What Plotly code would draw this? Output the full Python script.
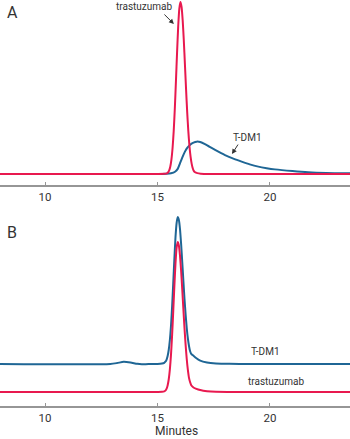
import plotly.graph_objects as go

# ---------------- data ----------------
# Panel A: overlay of the two chromatograms
a_tras_min = [8.0, 15.0, 15.3, 15.42, 15.47, 15.52, 15.57, 15.62, 15.67, 15.72, 15.77, 15.82, 15.87,
              15.92, 15.97, 16.02, 16.07, 16.12, 16.17, 16.22, 16.27, 16.32, 16.37, 16.42, 16.47,
              16.52, 16.57, 16.62, 16.67, 16.77, 16.92, 17.3, 23.56]
a_tras_val = [0.0, 0.0, 0.1, 0.4, 0.9, 2.1, 4.4, 8.5, 15.1, 24.9, 38.1, 54.0, 70.7,
              85.7, 96.2, 100.0, 97.2, 89.3, 77.5, 63.5, 49.2, 36.0, 24.9, 16.3, 10.1,
              5.9, 3.2, 1.7, 1.0, 0.5, 0.2, 0.0, 0.0]

a_tdm1_min = [8.0, 15.2, 15.4, 15.6, 15.78, 15.9, 16.0, 16.1, 16.22, 16.33, 16.44, 16.6, 16.74,
              16.9, 17.11, 17.3, 17.56, 18.0, 18.4, 18.74, 19.1, 19.48, 19.85, 20.22, 21.0,
              21.7, 22.5, 23.56]
a_tdm1_val = [0.0, 0.0, 0.1, 0.4, 1.3, 3.0, 6.2, 9.5, 13.0, 15.3, 16.9, 18.2, 18.8,
              18.6, 17.4, 15.9, 14.0, 11.0, 8.8, 7.2, 5.6, 4.3, 3.4, 2.7, 1.7,
              1.0, 0.6, 0.4]

# Panel B: stacked chromatograms
b_tras_min = [8.0, 15.0, 15.2, 15.3, 15.35, 15.4, 15.45, 15.5, 15.55, 15.6, 15.65, 15.7, 15.75,
              15.8, 15.85, 15.9, 15.95, 16.0, 16.05, 16.1, 16.15, 16.2, 16.25, 16.3, 16.35,
              16.4, 16.45, 16.5, 16.6, 16.7, 16.9, 17.2, 17.6, 23.56]
b_tras_val = [0.0, 0.0, 0.1, 0.4, 0.9, 2.1, 4.4, 8.5, 15.1, 24.9, 38.1, 54.0, 70.7,
              85.7, 96.2, 100.0, 97.7, 91.0, 80.8, 68.5, 55.4, 42.7, 31.4, 22.0, 14.7,
              9.4, 6.5, 4.5, 3.0, 2.3, 1.3, 0.5, 0.1, 0.0]

b_tdm1_min = [8.0, 12.9, 13.2, 13.5, 13.8, 14.1, 14.3, 14.6, 15.0, 15.2, 15.3, 15.35, 15.4,
              15.45, 15.5, 15.55, 15.6, 15.65, 15.7, 15.75, 15.8, 15.85, 15.9, 15.95, 16.0,
              16.05, 16.1, 16.15, 16.2, 16.25, 16.3, 16.35, 16.4, 16.45, 16.5, 16.6, 16.7,
              16.9, 17.2, 17.6, 18.2, 19.0, 23.56]
b_tdm1_val = [0.0, 0.0, 0.6, 1.5, 1.0, 0.1, -0.2, 0.0, 0.0, 0.3, 0.8, 1.5, 2.8,
              5.3, 9.5, 16.0, 25.5, 38.5, 54.0, 70.0, 84.5, 94.0, 98.0, 96.0, 90.0,
              80.0, 68.0, 55.5, 43.5, 33.0, 24.0, 17.0, 12.0, 8.5, 6.8, 5.5, 4.2,
              2.2, 1.0, 0.4, 0.1, 0.0, 0.0]
b_tdm1_offset = 18.67   # vertical stacking offset of the T-DM1 trace

tick_vals = [10, 15, 20]
tick_text = ["10", "15", "20"]
x_title = "Minutes"
series_names = ["trastuzumab", "T-DM1"]
panel_labels = ["A", "B"]

# ---------------- styling ----------------
RED = "#e8194f"
BLUE = "#1f6695"
AXIS = "#969696"
TXT = "#333333"
FONT = "Liberation Sans Narrow, Roboto, Arial, sans-serif"

fig = go.Figure()

# Panel A (blue under red)
fig.add_trace(go.Scatter(x=a_tdm1_min, y=a_tdm1_val, mode="lines", line=dict(color=BLUE, width=2, shape="spline", smoothing=0.6),
                         xaxis="x", yaxis="y", name=series_names[1], hoverinfo="skip"))
fig.add_trace(go.Scatter(x=a_tras_min, y=a_tras_val, mode="lines", line=dict(color=RED, width=2, shape="spline", smoothing=0.6),
                         xaxis="x", yaxis="y", name=series_names[0], hoverinfo="skip"))
# Panel B
fig.add_trace(go.Scatter(x=b_tdm1_min, y=[v + b_tdm1_offset for v in b_tdm1_val], mode="lines",
                         line=dict(color=BLUE, width=2, shape="spline", smoothing=0.6),
                         xaxis="x2", yaxis="y2", name=series_names[1], hoverinfo="skip"))
fig.add_trace(go.Scatter(x=b_tras_min, y=b_tras_val, mode="lines", line=dict(color=RED, width=2, shape="spline", smoothing=0.6),
                         xaxis="x2", yaxis="y2", name=series_names[0], hoverinfo="skip"))

xcommon = dict(range=[8, 23.556], tickvals=tick_vals, ticktext=tick_text, showgrid=False, zeroline=False,
               showline=True, linecolor=AXIS, linewidth=2, ticks="inside", ticklen=3, tickcolor=AXIS,
               tickwidth=1, tickfont=dict(family=FONT, size=11.5, color=TXT), fixedrange=True)

fig.update_layout(
    width=350, height=439,
    margin=dict(l=0, r=0, t=0, b=33),
    paper_bgcolor="white", plot_bgcolor="white",
    showlegend=False,
    xaxis=dict(**xcommon, anchor="y"),
    yaxis=dict(domain=[0.5443, 1.0], range=[-6.395, 101.16], visible=False, fixedrange=True),
    xaxis2=dict(**xcommon, anchor="y2"),
    yaxis2=dict(domain=[0.0, 0.5074], range=[-9.33, 128], visible=False, fixedrange=True),
)

ann = []
# panel letters
ann.append(dict(text=panel_labels[0], xref="paper", yref="paper", x=0.014, y=0.9704, xanchor="left", yanchor="middle",
                showarrow=False, font=dict(family="Roboto, Arial, sans-serif", size=16, color=TXT)))
ann.append(dict(text=panel_labels[1], xref="paper", yref="paper", x=0.014, y=0.4273, xanchor="left", yanchor="middle",
                showarrow=False, font=dict(family="Roboto, Arial, sans-serif", size=16, color=TXT)))
# Panel A labels
ann.append(dict(text=series_names[0], xref="x", yref="y", x=14.44, y=97.1, showarrow=False,
                font=dict(family=FONT, size=10, color=TXT)))
ann.append(dict(text="", xref="x", yref="y", x=15.73, y=87.2, ax=-11, ay=-11, showarrow=True,
                arrowhead=2, arrowsize=1, arrowwidth=1, arrowcolor=TXT))
ann.append(dict(text=series_names[1], xref="x", yref="y", x=18.98, y=21.5, showarrow=False,
                font=dict(family=FONT, size=10, color=TXT)))
ann.append(dict(text="", xref="x", yref="y", x=18.31, y=11.6, ax=7, ay=-11, showarrow=True,
                arrowhead=2, arrowsize=1, arrowwidth=1, arrowcolor=TXT))
# Panel B labels
ann.append(dict(text=series_names[1], xref="x2", yref="y2", x=19.82, y=26.7, showarrow=False,
                font=dict(family=FONT, size=10, color=TXT)))
ann.append(dict(text=series_names[0], xref="x2", yref="y2", x=20.27, y=6.7, showarrow=False,
                font=dict(family=FONT, size=10, color=TXT)))
# axis title
ann.append(dict(text=x_title, xref="paper", yref="paper", x=0.503, y=-0.0813, xanchor="center", yanchor="bottom",
                borderpad=0, showarrow=False, font=dict(family=FONT, size=12, color=TXT)))
fig.update_layout(annotations=ann)

fig.write_html("out.html", config={"displayModeBar": False})
